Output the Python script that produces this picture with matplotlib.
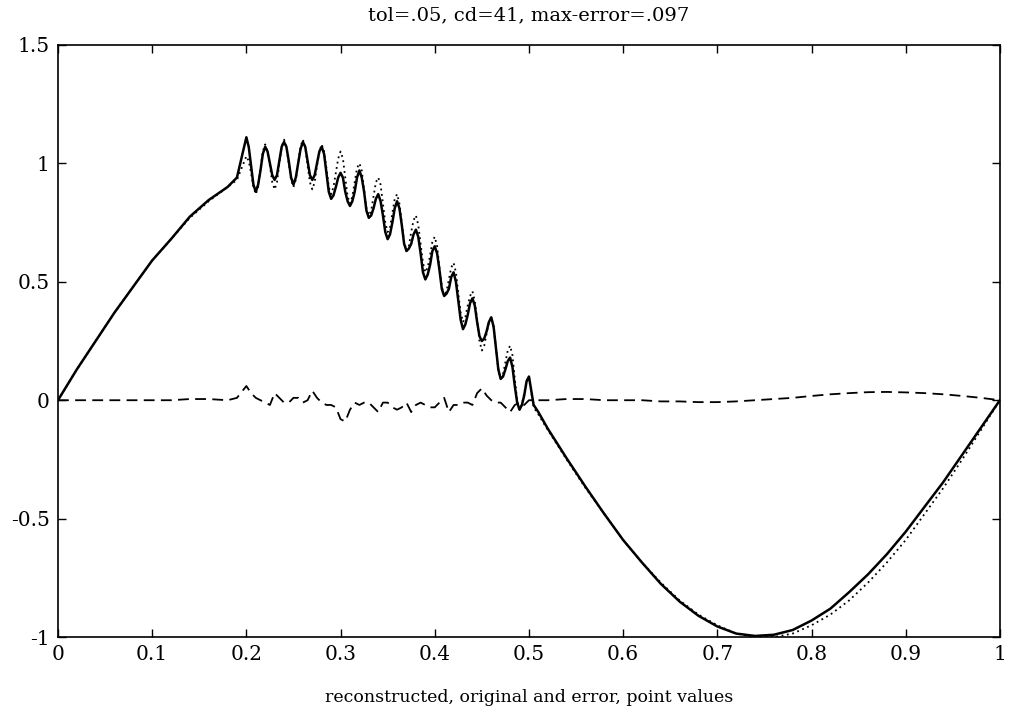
import numpy as np
import matplotlib
matplotlib.use('Agg')
import matplotlib.pyplot as plt

# sample positions: coarse on the smooth sine parts, fine in the wiggly middle
x_left = [0.0, 0.02, 0.04, 0.06, 0.08, 0.10, 0.12, 0.14, 0.16, 0.18, 0.19]
x_fine = list(np.round(np.arange(0.2, 0.50001, 0.0025), 4))
x_coarse = list(np.round(np.arange(0.2, 0.50001, 0.005), 3))
x_right = [0.505, 0.51, 0.52, 0.54, 0.56, 0.58, 0.60, 0.62, 0.64, 0.66, 0.68,
           0.70, 0.72, 0.74, 0.76, 0.78, 0.80, 0.82, 0.84, 0.86, 0.88, 0.90,
           0.92, 0.94, 0.96, 0.98, 1.0]

# original (dotted)
orig_left = [0.0, 0.13, 0.25, 0.37, 0.48, 0.59, 0.68, 0.77, 0.84, 0.90, 0.93]
orig_mid = [1.03, 1.01, 0.96, 0.90, 0.87, 0.90, 0.98, 1.05, 1.08, 1.05,
            0.99, 0.92, 0.89, 0.92, 1.00, 1.07, 1.10, 1.07, 1.00, 0.93,
            0.90, 0.93, 1.00, 1.07, 1.10, 1.07, 0.99, 0.92, 0.89, 0.92,
            0.99, 1.05, 1.08, 1.05, 0.98, 0.90, 0.87, 0.90, 0.96, 1.02,
            1.05, 1.02, 0.94, 0.86, 0.83, 0.86, 0.92, 0.98, 1.00, 0.97,
            0.89, 0.81, 0.78, 0.80, 0.86, 0.92, 0.94, 0.91, 0.83, 0.75,
            0.71, 0.73, 0.79, 0.85, 0.87, 0.83, 0.75, 0.67, 0.63, 0.65,
            0.71, 0.76, 0.78, 0.74, 0.66, 0.58, 0.54, 0.56, 0.61, 0.67,
            0.69, 0.65, 0.56, 0.48, 0.44, 0.46, 0.51, 0.56, 0.58, 0.54,
            0.45, 0.37, 0.33, 0.35, 0.40, 0.44, 0.46, 0.42, 0.34, 0.25,
            0.21, 0.23, 0.28, 0.33, 0.35, 0.31, 0.22, 0.13, 0.09, 0.11,
            0.16, 0.21, 0.23, 0.19, 0.09, 0.00, -0.04, -0.02, 0.03, 0.08,
            0.10]
orig_right = [-0.03, -0.06, -0.125, -0.25, -0.37, -0.48, -0.59, -0.685,
              -0.77, -0.845, -0.905, -0.95, -0.985, -1.0, -1.0, -0.985,
              -0.95, -0.905, -0.845, -0.77, -0.685, -0.59, -0.48, -0.37,
              -0.25, -0.125, 0.0]

# reconstructed (solid)
rec_left = [0.0, 0.13, 0.25, 0.37, 0.48, 0.59, 0.68, 0.775, 0.845, 0.90, 0.94]
rec_mid = [1.11, 1.07, 0.99, 0.91, 0.88, 0.91, 0.97, 1.04, 1.07, 1.05,
           1.00, 0.95, 0.93, 0.95, 1.01, 1.07, 1.09, 1.07, 1.01, 0.94,
           0.91, 0.94, 1.00, 1.06, 1.09, 1.07, 1.01, 0.95, 0.93, 0.95,
           1.00, 1.05, 1.07, 1.04, 0.96, 0.88, 0.85, 0.865, 0.90, 0.94,
           0.96, 0.94, 0.88, 0.84, 0.82, 0.84, 0.88, 0.94, 0.97, 0.94,
           0.88, 0.80, 0.77, 0.78, 0.81, 0.85, 0.87, 0.84, 0.78, 0.71,
           0.68, 0.70, 0.75, 0.81, 0.84, 0.81, 0.74, 0.66, 0.63, 0.64,
           0.66, 0.70, 0.72, 0.69, 0.62, 0.54, 0.51, 0.53, 0.57, 0.63,
           0.65, 0.62, 0.55, 0.47, 0.44, 0.45, 0.47, 0.52, 0.54, 0.50,
           0.42, 0.34, 0.30, 0.32, 0.36, 0.41, 0.43, 0.40, 0.33, 0.27,
           0.25, 0.26, 0.29, 0.33, 0.35, 0.31, 0.22, 0.13, 0.09, 0.10,
           0.13, 0.165, 0.18, 0.14, 0.06, -0.01, -0.04, -0.02, 0.02, 0.08,
           0.10]
rec_right = [-0.02, -0.05, -0.12, -0.245, -0.365, -0.48, -0.59, -0.685,
             -0.775, -0.85, -0.91, -0.955, -0.985, -0.995, -0.99, -0.97,
             -0.93, -0.88, -0.81, -0.735, -0.65, -0.555, -0.45, -0.345,
             -0.23, -0.115, 0.0]

# error (dashed)
err_left = [0.0, 0.0, 0.0, 0.0, 0.0, 0.0, 0.0, 0.005, 0.005, 0.0, 0.01]
err_mid = [0.06, 0.03, 0.01, 0.0, -0.01, -0.02, 0.03, 0.01, -0.01, -0.01,
           0.01, 0.01, -0.01, 0.0, 0.04, 0.01, -0.01, -0.02, -0.02, -0.03,
           -0.08, -0.09, -0.04, -0.01, -0.02, -0.01, -0.01, -0.03, -0.05, -0.01,
           -0.01, -0.03, -0.04, -0.03, -0.01, -0.05, -0.02, -0.01, -0.02, -0.03,
           -0.03, -0.01, 0.01, -0.05, -0.02, -0.02, -0.01, -0.01, -0.02, 0.03,
           0.05, 0.02, 0.0, -0.01, -0.01, -0.03, -0.05, -0.02, -0.01, -0.02,
           0.0]
err_right = [0.0, 0.0, 0.0, 0.005, 0.005, 0.0, 0.0, 0.0, -0.005, -0.005,
             -0.008, -0.008, -0.005, 0.0, 0.005, 0.01, 0.018, 0.025, 0.03,
             0.034, 0.035, 0.033, 0.03, 0.025, 0.018, 0.01, 0.0]

x_sig = np.array(x_left + x_fine + x_right)
x_err = np.array(x_left + x_coarse + x_right)
original = np.array(orig_left + orig_mid + orig_right)
reconstructed = np.array(rec_left + rec_mid + rec_right)
error = np.array(err_left + err_mid + err_right)

xticks = [0, 0.1, 0.2, 0.3, 0.4, 0.5, 0.6, 0.7, 0.8, 0.9, 1]
xticklabels = ['0', '0.1', '0.2', '0.3', '0.4', '0.5', '0.6', '0.7', '0.8', '0.9', '1']
yticks = [-1, -0.5, 0, 0.5, 1, 1.5]
yticklabels = ['-1', '-0.5', '0', '0.5', '1', '1.5']

plt.rcParams['font.family'] = ['DejaVu Serif', 'Liberation Serif']

fig = plt.figure(figsize=(10.1, 7.24), dpi=100)
ax = fig.add_axes([0.0574, 0.12, 0.9326, 0.818])

ax.plot(x_sig, reconstructed, color='black', lw=1.8, ls='-')
ax.plot(x_sig, original, color='black', lw=1.3, ls=(0, (1, 2)))
ax.plot(x_err, error, color='black', lw=1.3, ls=(0, (6, 3.5)))

ax.set_xlim(0, 1)
ax.set_ylim(-1, 1.5)
ax.set_xticks(xticks)
ax.set_xticklabels(xticklabels)
ax.set_yticks(yticks)
ax.set_yticklabels(yticklabels)
ax.tick_params(direction='in', length=6, width=1, top=True, right=True,
               labelsize=14.5, pad=6)
for s in ax.spines.values():
    s.set_linewidth(1.2)

ax.set_title('tol=.05, cd=41, max-error=.097', fontsize=14, pad=18)
ax.set_xlabel('reconstructed, original and error, point values', fontsize=12.5,
              labelpad=18)

fig.savefig('out.png', dpi=100)
